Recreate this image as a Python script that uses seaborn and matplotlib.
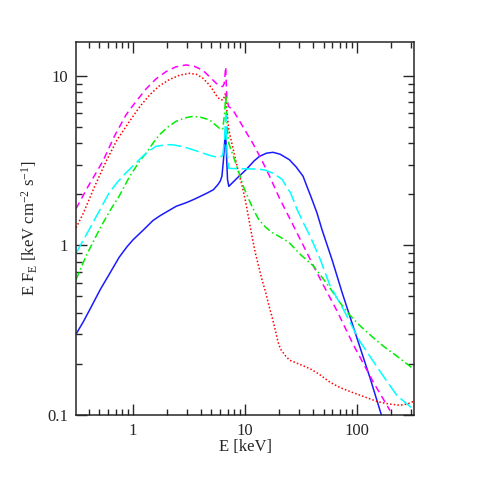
import numpy as np
import pandas as pd
import matplotlib
matplotlib.use("Agg")
import matplotlib.pyplot as plt
import seaborn as sns

# energies (keV) and E F_E values, one pair per model curve
E_blue = [0.31, 0.36, 0.42, 0.51, 0.6, 0.75, 0.88, 1.0, 1.23, 1.5, 1.75, 2.0, 2.42, 3.0, 3.5, 4.0,
          4.6, 5.2, 5.7, 6.0, 6.2, 6.4, 6.67, 6.95, 7.14, 8.5, 10.2, 12.0, 13.4, 15.5, 17.7, 20.5,
          24.8, 28.5, 32.8, 35.8, 38.8, 43.6, 48.4, 60, 73, 100, 130, 164]
F_blue = [0.30, 0.355, 0.43, 0.55, 0.66, 0.85, 0.98, 1.08, 1.23, 1.40, 1.50, 1.58, 1.70, 1.79, 1.87, 1.95,
          2.04, 2.13, 2.28, 2.40, 2.56, 3.2, 4.85, 2.45, 2.23, 2.5, 2.8, 3.15, 3.35, 3.5, 3.54, 3.45,
          3.2, 2.9, 2.56, 2.2, 1.92, 1.56, 1.24, 0.81, 0.53, 0.28, 0.165, 0.10]

E_red = [0.31, 0.36, 0.45, 0.574, 0.72, 0.93, 1.15, 1.4, 1.7, 2.1, 2.6, 3.18, 3.7, 4.18, 4.6, 5.0,
         5.5, 5.9, 6.3, 6.5, 6.67, 6.9, 7.14, 7.6, 8.2, 8.8, 9.4, 10.1, 10.8, 11.5, 12.3, 13.2, 14.1,
         15.2, 16.3, 17.5, 18.7, 19.6, 20.6, 23, 25, 31, 38, 45, 57, 70, 87, 115, 150, 190, 241, 280, 316]
F_red = [1.27, 1.55, 2.2, 3.13, 4.2, 5.4, 6.6, 7.7, 8.7, 9.5, 10.1, 10.35, 10.2, 9.7, 9.1, 8.5,
         7.7, 7.3, 7.2, 7.5, 7.9, 6.0, 4.8, 4.0, 3.2, 2.65, 2.23, 1.8, 1.42, 1.13, 0.905, 0.75, 0.63,
         0.53, 0.44, 0.37, 0.31, 0.27, 0.245, 0.222, 0.21, 0.198, 0.187, 0.175, 0.156, 0.145, 0.137,
         0.128, 0.12, 0.116, 0.114, 0.116, 0.12]

E_mag = [0.31, 0.4, 0.536, 0.68, 0.866, 1.05, 1.31, 1.6, 1.97, 2.4, 2.97, 3.5, 4.18, 4.8, 5.5, 6.0,
         6.3, 6.5, 6.7, 6.85, 7.1, 7.76, 9.0, 10.3, 11.7, 14, 16.5, 20.2, 26.1, 33.2, 40.7, 50, 66,
         92, 139, 196]
F_mag = [1.65, 2.25, 3.13, 4.4, 5.9, 7.0, 8.4, 9.6, 10.6, 11.3, 11.6, 11.4, 10.8, 9.9, 9.05, 8.7,
         8.65, 9.0, 11.3, 7.5, 6.6, 6.3, 5.35, 4.6, 4.0, 3.2, 2.56, 1.9, 1.36, 0.99, 0.755, 0.58, 0.41,
         0.26, 0.156, 0.106]

E_green = [0.31, 0.38, 0.5, 0.62, 0.75, 0.93, 1.14, 1.31, 1.5, 1.72, 2.05, 2.42, 2.9, 3.4, 4.0, 4.8,
           5.4, 5.9, 6.3, 6.55, 6.7, 6.9, 7.14, 7.9, 8.8, 9.7, 10.8, 12.0, 13.2, 15.2, 17.4, 20.5,
           24.6, 31, 40.7, 55, 70, 85, 106, 135, 170, 230, 316]
F_green = [0.63, 0.865, 1.24, 1.6, 1.95, 2.55, 3.13, 3.51, 4.0, 4.5, 5.0, 5.4, 5.65, 5.77, 5.7, 5.5,
           5.15, 4.9, 4.85, 6.0, 7.7, 5.0, 4.0, 3.3, 2.68, 2.2, 1.86, 1.6, 1.42, 1.28, 1.19, 1.12,
           1.04, 0.885, 0.755, 0.58, 0.46, 0.39, 0.335, 0.29, 0.255, 0.22, 0.187]

E_cyan = [0.31, 0.4, 0.5, 0.61, 0.72, 0.85, 1.0, 1.22, 1.4, 1.6, 2.0, 2.26, 2.8, 3.4, 4.2, 5.1,
          5.9, 6.3, 6.55, 6.7, 6.9, 7.14, 7.67, 10, 13, 15.1, 18, 21.4, 23.5, 25.4, 29, 33, 38, 46.6,
          57, 75, 106, 160, 226, 316]
F_cyan = [0.9, 1.22, 1.6, 2.04, 2.35, 2.65, 2.95, 3.36, 3.62, 3.84, 3.93, 3.92, 3.82, 3.67, 3.5, 3.36,
          3.3, 3.4, 4.2, 5.9, 3.5, 2.85, 2.84, 2.83, 2.82, 2.78, 2.65, 2.45, 2.2, 2.04, 1.63, 1.36, 1.13,
          0.83, 0.58, 0.42, 0.27, 0.18, 0.13, 0.108]

sns.set_style("ticks")
plt.rcParams['font.family'] = ['Liberation Serif', 'DejaVu Serif']
plt.rcParams['mathtext.fontset'] = 'custom'
plt.rcParams['mathtext.rm'] = 'Liberation Serif'
plt.rcParams['mathtext.it'] = 'Liberation Serif'

fig = plt.figure(figsize=(4.91, 4.91), dpi=100)
ax = fig.add_axes([0.155, 0.155, 0.688, 0.760])

curves = [
    (E_blue, F_blue, '#1a1aff', '-'),
    (E_red, F_red, 'red', (0, (1, 1.4))),
    (E_mag, F_mag, 'magenta', (0, (4.5, 3))),
    (E_green, F_green, '#00ee00', (0, (5, 2, 1, 2))),
    (E_cyan, F_cyan, 'cyan', (0, (9, 3))),
]
for e, f, c, ls in curves:
    sns.lineplot(x=e, y=f, ax=ax, color=c, linestyle=ls, linewidth=1.1)

ax.set_xscale('log')
ax.set_yscale('log')
ax.set_xlim(0.31, 320)
ax.set_ylim(0.1, 15.9)
ax.set_xticks([1, 10, 100])
ax.set_xticklabels(['1', '10', '100'])
ax.set_yticks([0.1, 1, 10])
ax.set_yticklabels(['0.1', '1', '10'])

ax.tick_params(which='both', direction='in', top=True, right=True, labelsize=12, pad=6, width=1.0)
ax.tick_params(which='major', length=8)
ax.tick_params(which='minor', length=4)
for s in ax.spines.values():
    s.set_linewidth(1.1)

ax.set_xlabel('E [keV]', fontsize=12, labelpad=0)
ax.set_ylabel(r'E F$_{\rm E}$ [keV cm$^{-2}$ s$^{-1}$]', fontsize=12, labelpad=5)

fig.savefig('out.png', dpi=100)
